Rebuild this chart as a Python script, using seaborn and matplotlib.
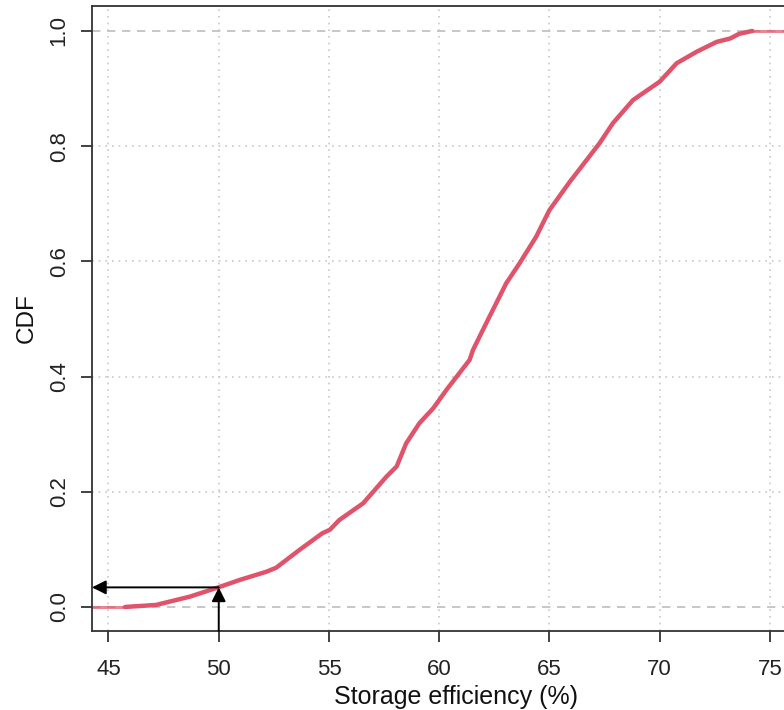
import matplotlib
matplotlib.use("Agg")
import matplotlib.pyplot as plt
import seaborn as sns
import pandas as pd

# Empirical CDF of storage efficiency (quantile, cumulative share)
efficiency = [45.75, 47.16, 48.70, 49.98, 50.96, 52.15, 52.60, 53.66, 54.70, 55.04,
              55.47, 56.55, 57.60, 58.07, 58.50, 59.10, 59.73, 60.33, 61.38, 61.53,
              62.13, 63.04, 63.65, 64.40, 65.00, 65.92, 67.27, 67.88, 68.79, 70.00,
              70.77, 71.68, 72.58, 73.20, 73.60, 74.20]
cdf = [0.000, 0.0035, 0.018, 0.034, 0.047, 0.061, 0.068, 0.099, 0.128, 0.134,
       0.151, 0.180, 0.226, 0.244, 0.284, 0.319, 0.345, 0.377, 0.429, 0.446,
       0.4925, 0.562, 0.597, 0.643, 0.689, 0.738, 0.805, 0.840, 0.880, 0.912,
       0.944, 0.964, 0.981, 0.987, 0.995, 1.000]

x_ticks = [45, 50, 55, 60, 65, 70, 75]
y_ticks = [0.0, 0.2, 0.4, 0.6, 0.8, 1.0]
y_tick_labels = ["0.0", "0.2", "0.4", "0.6", "0.8", "1.0"]

threshold_x = 50
threshold_cdf = 0.034

x_range = (44.25, 77.27)
y_range = (-0.0417, 1.0434)

sns.set_theme(style="white")
plt.rcParams["font.family"] = ["Liberation Sans", "DejaVu Sans"]

curve_color = "#DF536B"
df = pd.DataFrame({"efficiency": efficiency, "cdf": cdf})

fig = plt.figure(figsize=(7.84, 7.10), dpi=100)
ax = fig.add_axes([0.1173, 0.1113, 0.9286, 0.8803])

# grid
for xt in x_ticks:
    ax.axvline(xt, color="#C8C8C8", lw=1.2, ls=(0, (1, 3)), zorder=0)
for yt in y_ticks[1:-1]:
    ax.axhline(yt, color="#C8C8C8", lw=1.2, ls=(0, (1, 3)), zorder=0)
for yt in (0.0, 1.0):
    ax.axhline(yt, color="#BDBDBD", lw=1.2, ls=(0, (5, 4)), zorder=1)

# flat tails of the step function
ax.plot([x_range[0], efficiency[0]], [0, 0], color=curve_color, lw=2.2, alpha=0.7, zorder=2)
ax.plot([efficiency[-1], x_range[1]], [1, 1], color=curve_color, lw=2.2, alpha=0.7, zorder=2)

sns.lineplot(data=df, x="efficiency", y="cdf", sort=False, estimator=None,
             color=curve_color, lw=3.2, ax=ax, zorder=3)

# threshold arrows
arrow_kw = dict(arrowstyle="-|>", color="black", lw=1.4, mutation_scale=21,
                shrinkA=0, shrinkB=0)
ax.annotate("", xy=(threshold_x, threshold_cdf), xytext=(threshold_x, y_range[0]),
            arrowprops=arrow_kw, zorder=4)
ax.annotate("", xy=(x_range[0], threshold_cdf), xytext=(threshold_x, threshold_cdf),
            arrowprops=arrow_kw, zorder=4)

ax.set_xlim(*x_range)
ax.set_ylim(*y_range)
ax.set_xticks(x_ticks)
ax.set_xticklabels([str(v) for v in x_ticks])
ax.set_yticks(y_ticks)
ax.set_yticklabels(y_tick_labels, rotation=90, va="center")

for side in ("left", "bottom", "top", "right"):
    ax.spines[side].set_color("#333333")
    ax.spines[side].set_linewidth(1.3)

ax.tick_params(axis="both", which="major", direction="out", length=8, width=1.3,
               color="#333333", labelsize=16, labelcolor="#222222",
               bottom=True, left=True)
ax.tick_params(axis="x", pad=12)
ax.tick_params(axis="y", pad=8)

ax.set_xlabel("Storage efficiency (%)", fontsize=18, color="#111111", labelpad=4)
ax.set_ylabel("CDF", fontsize=17.5, color="#111111", labelpad=8)

fig.savefig("out.png", dpi=100)
